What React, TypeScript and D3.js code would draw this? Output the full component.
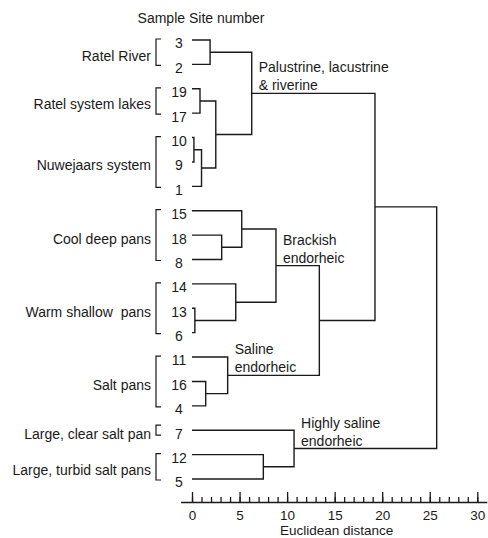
import { useEffect, useRef } from 'react';
import * as d3 from 'd3';

const WIDTH = 488;
const HEIGHT = 538;
const FONT = '"Liberation Sans", Arial, sans-serif';
const INK = '#1a1a1a';

// sample sites, top to bottom
const LEAVES = ['3', '2', '19', '17', '10', '9', '1', '15', '18', '8', '14', '13', '6', '11', '16', '4', '7', '12', '5'];

// linkage: [left, right, euclidean distance, node id]
const MERGES: Array<[string, string, number, string]> = [
  ['3', '2', 1.9, 'A'],
  ['19', '17', 0.84, 'B'],
  ['10', '9', 0.2, 'C'],
  ['C', '1', 1.0, 'D'],
  ['B', 'D', 2.5, 'E'],
  ['A', 'E', 6.28, 'F'],
  ['18', '8', 3.12, 'G'],
  ['15', 'G', 5.23, 'H'],
  ['13', '6', 0.3, 'I'],
  ['14', 'I', 4.6, 'J'],
  ['H', 'J', 8.83, 'K'],
  ['16', '4', 1.44, 'L'],
  ['11', 'L', 3.75, 'M'],
  ['K', 'M', 13.39, 'N'],
  ['F', 'N', 19.24, 'O'],
  ['12', '5', 7.5, 'P'],
  ['7', 'P', 10.73, 'Q'],
  ['O', 'Q', 25.73, 'R'],
];

// [group name, first site, last site]
const GROUPS: Array<[string, string, string]> = [
  ['Ratel River', '3', '2'],
  ['Ratel system lakes', '19', '17'],
  ['Nuwejaars system', '10', '1'],
  ['Cool deep pans', '15', '8'],
  ['Warm shallow  pans', '14', '6'],
  ['Salt pans', '11', '4'],
  ['Large, clear salt pan', '7', '7'],
  ['Large, turbid salt pans', '12', '5'],
];

const CLUSTER_NOTES: Array<[string, string[]]> = [
  ['F', ['Palustrine, lacustrine', '& riverine']],
  ['K', ['Brackish', 'endorheic']],
  ['M', ['Saline', 'endorheic']],
  ['Q', ['Highly saline', 'endorheic']],
];

const MAJOR_TICKS = [0, 5, 10, 15, 20, 25, 30];
const MINOR_TICKS = d3.range(0, 31);

export default function App() {
  const svgRef = useRef<SVGSVGElement>(null);

  useEffect(() => {
    if (!svgRef.current) return;
    const svg = d3.select(svgRef.current);
    svg.selectAll('*').remove();

    const x = d3.scaleLinear().domain([-1.2, 31]).range([180.6, 486.8]);
    const y = d3.scalePoint<string>().domain(LEAVES).range([40, 479]);

    const nodes = new Map<string, { h: number; y: number }>();
    LEAVES.forEach((l) => nodes.set(l, { h: 0, y: y(l) as number }));

    const paths: string[] = [];
    MERGES.forEach(([a, b, h, id]) => {
      const pa = nodes.get(a)!;
      const pb = nodes.get(b)!;
      nodes.set(id, { h, y: (pa.y + pb.y) / 2 });
      paths.push(`M${x(pa.h)},${pa.y}H${x(h)}V${pb.y}H${x(pb.h)}`);
    });

    const g = svg
      .append('g')
      .attr('font-family', FONT)
      .attr('font-size', 14)
      .attr('fill', INK)
      .style('white-space', 'pre');

    g.selectAll('.link')
      .data(paths)
      .enter()
      .append('path')
      .attr('class', 'link')
      .attr('d', (d) => d)
      .attr('fill', 'none')
      .attr('stroke', INK)
      .attr('stroke-width', 1.4);

    // site numbers
    g.selectAll('.leaf')
      .data(LEAVES)
      .enter()
      .append('text')
      .attr('class', 'leaf')
      .attr('x', 179)
      .attr('y', (d) => (y(d) as number) + 3.5)
      .attr('dy', '0.35em')
      .attr('text-anchor', 'middle')
      .text((d) => d);

    // group brackets and names
    GROUPS.forEach(([name, first, last]) => {
      const y0 = y(first) as number;
      const y1 = y(last) as number;
      const top = first === last ? y0 - 5 : y0 - 1;
      const bottom = first === last ? y1 + 5 : y1 + 1;
      g.append('path')
        .attr('d', `M161,${top}H156V${bottom}H161`)
        .attr('fill', 'none')
        .attr('stroke', INK)
        .attr('stroke-width', 1.2);
      g.append('text')
        .attr('x', 151)
        .attr('y', (y0 + y1) / 2 + 3.5)
        .attr('dy', '0.35em')
        .attr('text-anchor', 'end')
        .attr('xml:space', 'preserve')
        .text(name);
    });

    // cluster annotations
    CLUSTER_NOTES.forEach(([id, lines]) => {
      const n = nodes.get(id)!;
      lines.forEach((line, i) => {
        g.append('text')
          .attr('x', x(n.h) + 7)
          .attr('y', n.y - 21 + i * 18)
          .text(line);
      });
    });

    g.append('text')
      .attr('x', 201)
      .attr('y', 23)
      .attr('text-anchor', 'middle')
      .text('Sample Site number');

    // axis
    const axisY = 502;
    const minor = svg
      .append('g')
      .attr('transform', `translate(0,${axisY})`)
      .call(
        d3
          .axisBottom(x)
          .tickValues(MINOR_TICKS)
          .tickSizeInner(-5)
          .tickSizeOuter(0)
          .tickFormat(() => '')
      );
    minor.attr('color', INK);
    minor.selectAll('line,path').attr('stroke-width', 1.3);

    const major = svg
      .append('g')
      .attr('transform', `translate(0,${axisY})`)
      .call(d3.axisBottom(x).tickValues(MAJOR_TICKS).tickSize(-10).tickPadding(8.5));
    major.attr('color', INK);
    major.select('.domain').remove();
    major.selectAll('line').attr('stroke-width', 1.3);
    major.selectAll('text').attr('font-size', 13.5).attr('font-family', FONT);

    g.append('text')
      .attr('x', x(15) + 2)
      .attr('y', 535.2)
      .attr('font-size', 13.5)
      .attr('text-anchor', 'middle')
      .text('Euclidean distance');
  }, []);

  return (
    <svg
      ref={svgRef}
      width={WIDTH}
      height={HEIGHT}
      style={{ position: 'absolute', left: 0, top: 0, background: '#fff' }}
    />
  );
}
